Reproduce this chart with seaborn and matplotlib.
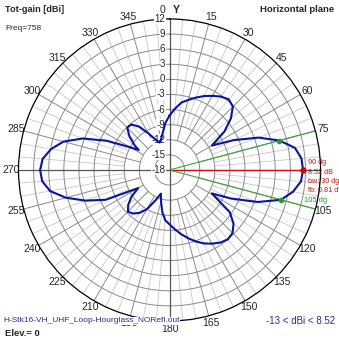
import numpy as np
import matplotlib
matplotlib.use("Agg")
import matplotlib.pyplot as plt
import seaborn as sns

# Horizontal-plane total gain pattern (azimuth clockwise from Y, dBi)
azimuth_deg = [0, 5, 10, 15, 20, 25, 30, 35, 40, 45, 50, 55, 60, 65, 70, 75, 80, 85,
               90, 95, 100, 105, 110, 115, 119, 125, 130, 135, 140, 145, 150, 155, 160,
               165, 170, 175, 180, 185, 190, 195, 200, 205, 210, 215, 220, 225, 230,
               235, 240, 245, 250, 255, 260, 265, 270, 275, 280, 285, 290, 295, 300,
               303, 305, 310, 315, 320, 325, 330, 335, 340, 345, 350, 355]
gain_dbi = [-7.2, -5.8, -4.4, -3.6, -2.7, -1.8, -1.0, -0.2, 0.3, -0.2, -2.1, -4.7, -8.3,
            -4.0, 0.8, 4.6, 7.3, 8.3, 8.52, 8.2, 6.9, 4.9, 0.6, -4.6, -8.4, -3.4, -1.4,
            -0.3, 0.0, -0.4, -1.1, -1.9, -2.9, -4.0, -5.1, -6.2, -7.2, -8.0, -9.6, -11.5,
            -13.0, -11.3, -9.0, -7.6, -6.7, -6.3, -7.3, -8.8, -10.8, -4.0, -0.2, 3.3, 6.1,
            7.4, 7.71, 7.3, 5.9, 3.8, 0.3, -4.3, -9.0, -10.7, -9.6, -7.6, -6.1, -6.2, -7.5,
            -9.6, -11.3, -12.2, -11.6, -10.4, -8.6]

ring_values = [12, 9, 6, 3, 0, -3, -6, -9, -12, -15, -18]
angle_ticks = list(range(0, 360, 15))
angle_labels = ["" if a in (0, 90) else str(a) for a in angle_ticks]

peak_dir = 90
peak_gain = 8.52
beamwidth = 30
front_back = 0.81
half_power_dirs = [75, 105]
gain_min = -13
r_min, r_max = -18, 12

sns.set_style("white")
plt.rcParams["font.family"] = ["Liberation Sans", "DejaVu Sans"]
plt.rcParams["axes.unicode_minus"] = False

fig = plt.figure(figsize=(3.39, 3.39), dpi=100)
fig.patch.set_facecolor("white")
ax = fig.add_axes([0.0546, 0.0531, 0.891, 0.891], projection="polar")
ax.set_theta_zero_location("N")
ax.set_theta_direction(-1)
ax.set_ylim(r_min, r_max)
ax.grid(False)
ax.set_yticks([])
ax.spines["polar"].set_color("black")
ax.spines["polar"].set_linewidth(0.9)

# grid: rings every 3 dB, spokes every 5/15 degrees
ring_theta = np.linspace(0, 2 * np.pi, 361)
for rv in ring_values[1:-1]:
    ax.plot(ring_theta, np.full_like(ring_theta, rv), color="#8a8a8a", lw=0.7, zorder=1)
for a in range(0, 360, 5):
    t = np.deg2rad(a)
    if a % 90 == 0:
        ax.plot([t, t], [r_min, r_max], color="#555555", lw=0.9, zorder=1.5)
    elif a % 15 == 0:
        ax.plot([t, t], [-12, r_max], color="#8a8a8a", lw=0.7, zorder=1)
    else:
        ax.plot([t, t], [-9, r_max], color="#c8c8c8", lw=0.6, zorder=0.9)

# angle labels
ax.set_xticks(np.deg2rad(angle_ticks))
ax.set_xticklabels(angle_labels)
ax.tick_params(axis="x", labelsize=7.5, pad=-1.5, length=0)
ax.annotate("0", xy=(0, r_max), xytext=(-5, 6.5), textcoords="offset points",
            ha="center", va="center", fontsize=7.5)
ax.annotate("Y", xy=(0, r_max), xytext=(5, 6.5), textcoords="offset points",
            ha="center", va="center", fontsize=7.5, fontweight="bold")

# ring labels along the vertical axis
for rv in ring_values:
    ax.annotate(str(rv), xy=(0, rv), xytext=(-3, 0), textcoords="offset points",
                ha="right", va="center", fontsize=7, zorder=3,
                bbox=dict(facecolor="white", edgecolor="none", pad=0.2))

# beam direction and half-power lines
ax.plot([np.deg2rad(peak_dir)] * 2, [r_min, peak_gain], color="#d01010", lw=0.9, zorder=2)
for hp in half_power_dirs:
    ax.plot([np.deg2rad(hp)] * 2, [r_min, r_max], color="#3aa63a", lw=0.8, zorder=2)

# pattern curve
theta = np.deg2rad(azimuth_deg + [azimuth_deg[0] + 360])
gain = gain_dbi + [gain_dbi[0]]
sns.lineplot(x=theta, y=gain, sort=False, estimator=None, ax=ax,
             color="#0a14a0", lw=1.5, zorder=4)
ax.set_xlabel("")
ax.set_ylabel("")

hp_gain = [gain_dbi[azimuth_deg.index(hp)] for hp in half_power_dirs]
ax.scatter(np.deg2rad(half_power_dirs), hp_gain, s=9, color="#2a9a2a", zorder=5)
ax.scatter([np.deg2rad(peak_dir)], [peak_gain], s=12, color="#e00000", zorder=5)
ax.set_ylim(r_min, r_max)

# annotations
fig.text(5 / 339, 1 - 9 / 339, "Tot-gain [dBi]", fontsize=6.6, fontweight="bold",
         va="center", ha="left")
fig.text(5 / 339, 1 - 28 / 339, "Freq=758", fontsize=6.0, va="center", ha="left")
fig.text(334 / 339, 1 - 9 / 339, "Horizontal plane", fontsize=6.8, fontweight="bold",
         va="center", ha="right")
fig.text(3 / 339, 1 - 321 / 339, "H-Stk16-VH_UHF_Loop-Hourglass_NORefl.out",
         fontsize=6.05, color="#2a2a9a", va="center", ha="left",
         bbox=dict(facecolor="white", edgecolor="none", pad=0.3))
fig.text(5 / 339, 1 - 333 / 339, "Elev.= 0", fontsize=6.8, fontweight="bold",
         va="center", ha="left")
fig.text(335 / 339, 1 - 321 / 339, f"{gain_min} < dBi < {peak_gain}", fontsize=7.0,
         color="#2a2a9a", va="center", ha="right")

red = "#cc1010"
for i, s in enumerate([f"{peak_dir} dg", f"{peak_gain} dB", f"bw: {beamwidth} dg",
                       f"fb: {front_back} dB"]):
    fig.text(308 / 339, 1 - (163 + 9.2 * i) / 339, s, fontsize=5.2, color=red,
             va="center", ha="left")
fig.text(304 / 339, 1 - 201 / 339, f"{half_power_dirs[1]} dg", fontsize=5.4,
         color="#2a9a2a", va="center", ha="left")

fig.savefig("out.png", dpi=100, facecolor="white")
